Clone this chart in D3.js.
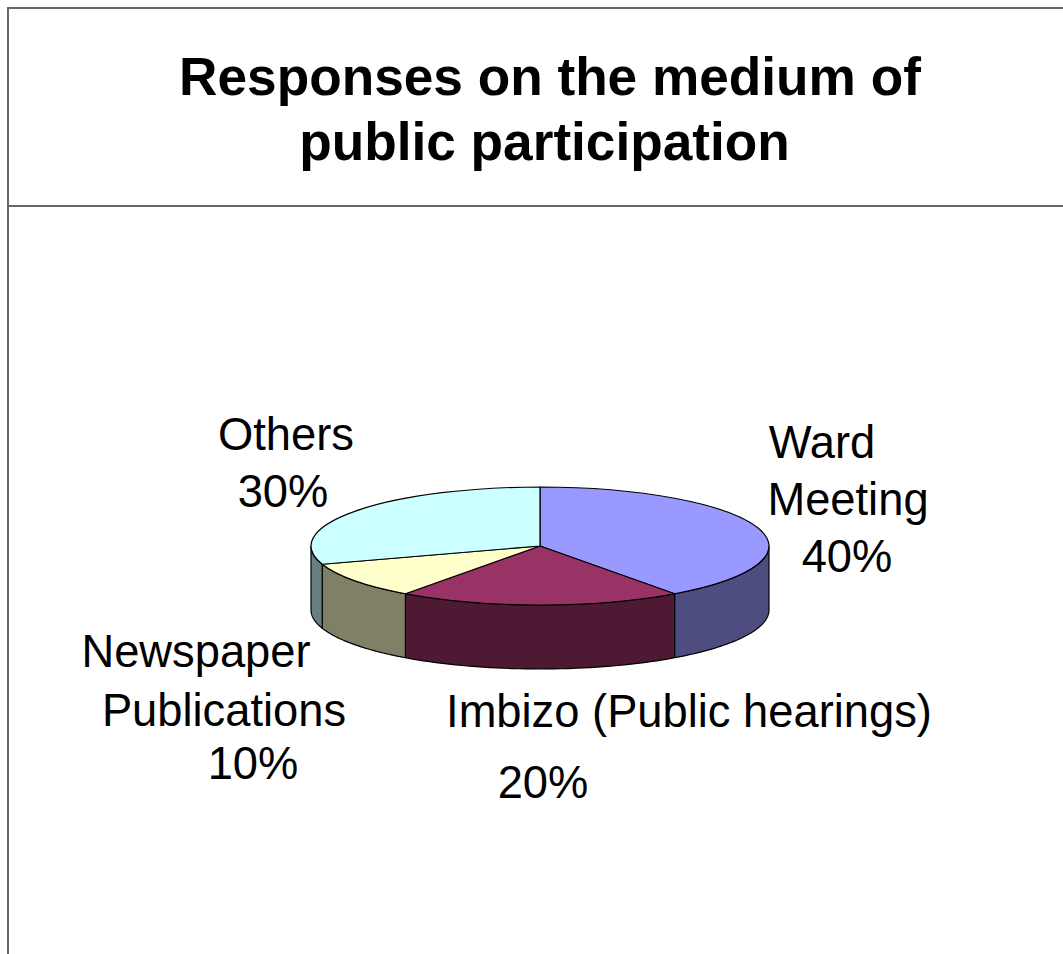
<!DOCTYPE html>
<html>
<head>
<meta charset="utf-8">
<script src="https://cdn.jsdelivr.net/npm/d3@7/dist/d3.min.js"></script>
<style>
  html, body { margin: 0; padding: 0; background: #fff; overflow: hidden; }
  svg { display: block; font-family: "Liberation Sans", Arial, sans-serif; }
</style>
</head>
<body>
<svg id="chart" width="1063" height="954"></svg>
<script>
// Survey shares, clockwise from twelve o'clock
const categories = ["Ward Meeting", "Imbizo (Public hearings)", "Newspaper Publications", "Others"];
const shares = [40, 20, 10, 30];
const topColours = ["#9999ff", "#993366", "#ffffcc", "#ccffff"];
const wallColours = ["#4d4d80", "#4d1933", "#808066", "#668080"];
const titleLines = ["Responses on the medium of", "public participation"];

const svg = d3.select("#chart");
const cx = 540, cy = 546, rx = 229, ry = 59, depth = 64;

// Panel frame and header rule
const frame = svg.append("g").attr("stroke", "#666").attr("stroke-width", 2).attr("fill", "none");
frame.append("path").attr("d", "M8,954V8H1063");
frame.append("path").attr("d", "M8,206H1063");

// Title
svg.append("g").selectAll("text").data(titleLines).join("text")
  .attr("x", (d, i) => i === 0 ? 550 : 544.5).attr("y", (d, i) => 95 + i * 65)
  .attr("text-anchor", "middle").attr("font-weight", "bold").attr("font-size", 53.2)
  .attr("fill", "#000").text(d => d);

// Pie angles come straight from the shares
const pie = d3.pie().value(d => d.share).sort(null);
const slices = pie(categories.map((name, i) => ({ name, share: shares[i], i })));

// Position on the tilted rim for a clockwise angle measured from the top
const xAt = a => cx + rx * Math.sin(a);
const yAt = a => cy - ry * Math.cos(a);

// Outer wall: only the front half of the rim (right to left, through the bottom) is visible
const wallPath = (a0, a1) => {
  const from = Math.max(a0, Math.PI / 2), to = Math.min(a1, 3 * Math.PI / 2);
  if (to <= from) return null;
  const steps = d3.range(0, 41).map(k => from + (to - from) * k / 40);
  return d3.area().x(a => xAt(a)).y0(a => yAt(a)).y1(a => yAt(a) + depth)(steps) + "";
};

svg.append("g").selectAll("path").data(slices).join("path")
  .attr("d", d => wallPath(d.startAngle, d.endAngle))
  .attr("fill", d => wallColours[d.data.i])
  .attr("stroke", "#000").attr("stroke-width", 1.2).attr("stroke-linejoin", "round");

// Top face: a flat pie squashed into an ellipse
const arc = d3.arc().innerRadius(0).outerRadius(rx);
svg.append("g").attr("transform", `translate(${cx},${cy}) scale(1,${ry / rx})`)
  .selectAll("path").data(slices).join("path")
  .attr("d", arc)
  .attr("fill", d => topColours[d.data.i])
  .attr("stroke", "#000").attr("stroke-width", 1.2)
  .attr("stroke-linejoin", "round")
  .attr("vector-effect", "non-scaling-stroke");

// Slice labels, each with its share underneath
const labelBlocks = [
  { lines: [["Ward", 822, 458], ["Meeting", 848, 515], [shares[0] + "%", 847, 572]] },
  { lines: [["Imbizo (Public hearings)", 689, 727], [shares[1] + "%", 543, 798]] },
  { lines: [["Newspaper", 196, 667], ["Publications", 224, 726], [shares[2] + "%", 253, 779]] },
  { lines: [["Others", 286, 450], [shares[3] + "%", 283, 507]] }
];
svg.append("g").selectAll("text").data(labelBlocks.flatMap(b => b.lines)).join("text")
  .attr("x", d => d[1]).attr("y", d => d[2])
  .attr("text-anchor", "middle").attr("font-size", 45.3).attr("fill", "#000")
  .text(d => d[0]);
</script>
</body>
</html>
